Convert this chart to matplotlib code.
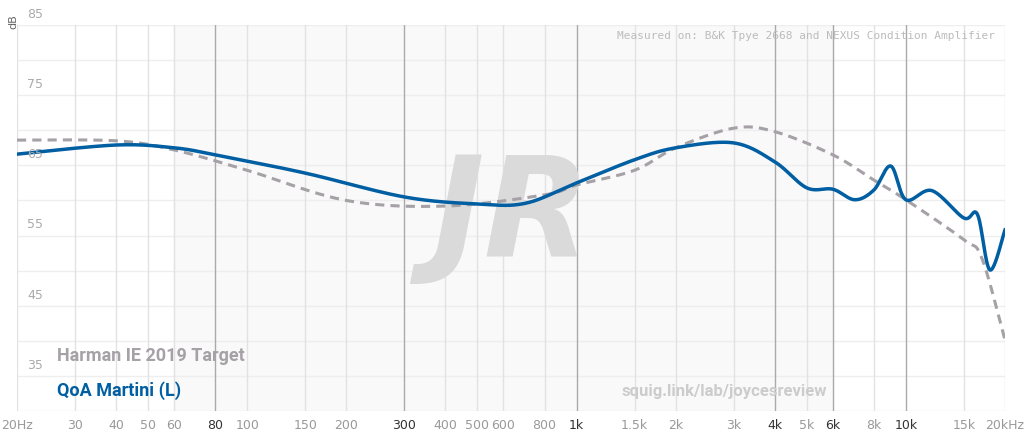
import numpy as np
import matplotlib.pyplot as plt

# values
qoa_f = [20, 40, 60, 80, 150, 300, 500, 700, 1000, 1500, 2000, 3000, 4000, 5000, 6000,
         7000, 8000, 9000, 10000, 12000, 15000, 16500, 18000, 20000]
qoa_db = [66.6, 67.9, 67.5, 66.5, 63.9, 60.5, 59.5, 59.6, 62.5, 65.8, 67.5, 68.2, 65.5,
          61.8, 61.6, 60.1, 61.5, 64.9, 60.1, 61.4, 57.5, 58.0, 50.1, 55.8]
harman_f = [20, 40, 60, 100, 200, 400, 800, 1000, 1500, 2000, 3000, 4000, 6000, 8000,
            10000, 15000, 17000, 20000]
harman_db = [68.6, 68.5, 67.2, 64.3, 60.0, 59.2, 60.8, 62.2, 64.3, 67.5, 70.3, 69.8,
             66.5, 62.9, 60.1, 54.4, 51.8, 40.1]
tick_f = [20, 30, 40, 50, 60, 80, 100, 150, 200, 300, 400, 500, 600, 800, 1000, 1500,
          2000, 3000, 4000, 5000, 6000, 8000, 10000, 15000, 20000]
tick_lbl = ['20Hz', '30', '40', '50', '60', '80', '100', '150', '200', '300', '400', '500',
            '600', '800', '1k', '1.5k', '2k', '3k', '4k', '5k', '6k', '8k', '10k', '15k', '20kHz']
dark_ticks = [80, 300, 1000, 4000, 6000, 10000]


def smooth(f, db):
    # catmull-rom through the points in log-frequency
    pts = list(zip(np.log10(f), db))
    xs, ys = [], []
    n = len(pts)
    for i in range(n - 1):
        p0 = pts[max(i - 1, 0)]; p1 = pts[i]; p2 = pts[i + 1]; p3 = pts[min(i + 2, n - 1)]
        for t in np.linspace(0, 1, 30, endpoint=False):
            t2, t3 = t * t, t * t * t
            for k, arr in ((0, xs), (1, ys)):
                arr.append(0.5 * (2 * p1[k] + (-p0[k] + p2[k]) * t
                                  + (2 * p0[k] - 5 * p1[k] + 4 * p2[k] - p3[k]) * t2
                                  + (-p0[k] + 3 * p1[k] - 3 * p2[k] + p3[k]) * t3))
    xs.append(pts[-1][0]); ys.append(pts[-1][1])
    return 10 ** np.array(xs), np.array(ys)


fig = plt.figure(figsize=(10.24, 4.43), dpi=100)
ax = fig.add_axes([17 / 1024, 32 / 443, 988 / 1024, 386 / 443])
ax.set_xscale('log')
ax.set_xlim(20, 20000)
ax.set_ylim(30, 85)

for d in range(30, 86, 5):
    ax.axhline(d, color='#eeeeee', lw=1, zorder=0)
for f in tick_f:
    ax.axvline(f, color='#aaaaaa' if f in dark_ticks else '#e2e2e2', lw=1, zorder=0)
ax.axvspan(60, 6000, color='#f9f9f9', zorder=-1)

# watermark
ax.text(0.5, 0.5, 'JR', transform=ax.transAxes, ha='center', va='center', fontsize=100,
        fontweight='bold', style='italic', color='#dadada', zorder=0.5)

hx, hy = smooth(harman_f, harman_db)
ax.plot(hx, hy, color='#a5a1a6', lw=2.2, ls=(0, (3, 2)), zorder=2)
qx, qy = smooth(qoa_f, qoa_db)
ax.plot(qx, qy, color='#005ea2', lw=2.5, zorder=3)

for s in ax.spines.values():
    s.set_visible(False)
ax.set_xticks(tick_f)
ax.set_xticklabels(tick_lbl)
ax.minorticks_off()
ax.tick_params(axis='x', length=0, pad=6, labelsize=9, labelcolor='#999999')
for lbl, f in zip(ax.get_xticklabels(), tick_f):
    if f in dark_ticks:
        lbl.set_color('#333333')
ax.set_yticks([])
for d in range(35, 86, 10):
    ax.text(21.5, d + 0.6, str(d), fontsize=9, color='#aaaaaa', va='bottom')
fig.text(8 / 1024, 1 - 22 / 443, 'dB', rotation=90, fontsize=8, color='#666666', va='center')

ax.text(0.99, 0.985, 'Measured on: B&K Tpye 2668 and NEXUS Condition Amplifier',
        transform=ax.transAxes, ha='right', va='top', fontsize=8, color='#bbbbbb',
        family='DejaVu Sans Mono')
ax.text(0.04, 0.13, 'Harman IE 2019 Target', transform=ax.transAxes, fontsize=13,
        fontweight='bold', color='#a5a1a6', family='Roboto')
ax.text(0.04, 0.04, 'QoA Martini (L)', transform=ax.transAxes, fontsize=13,
        fontweight='bold', color='#005ea2', family='Roboto')
ax.text(0.82, 0.04, 'squig.link/lab/joycesreview', transform=ax.transAxes, ha='right',
        fontsize=12, fontweight='bold', color='#cccccc', family='Roboto')

fig.savefig('out.png', dpi=100, facecolor='white')
